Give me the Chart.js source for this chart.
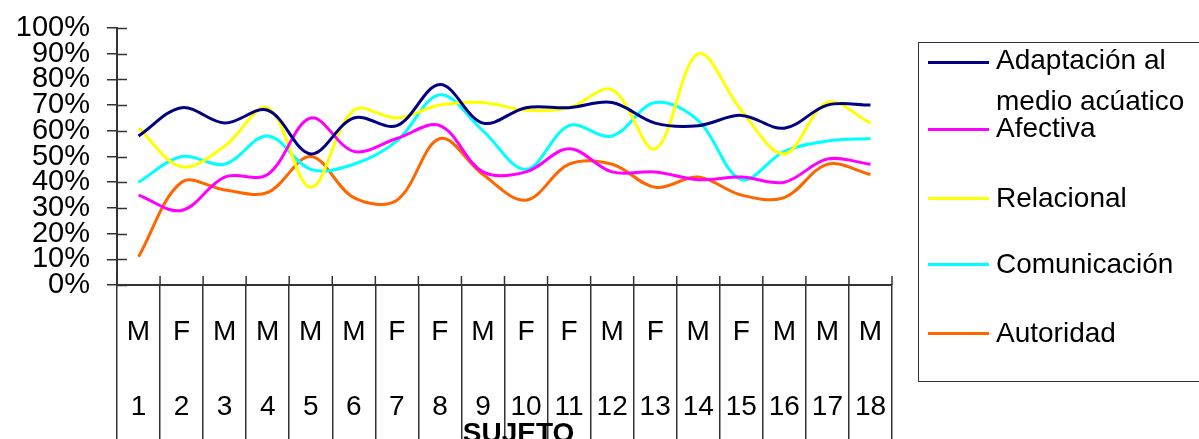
<!DOCTYPE html>
<html>
<head>
<meta charset="utf-8">
<script src="https://cdn.jsdelivr.net/npm/chart.js@4/dist/chart.umd.min.js"></script>
<style>
  html, body { margin: 0; padding: 0; background: #fff; overflow: hidden; }
  #wrap { position: relative; width: 1199px; height: 439px; overflow: hidden; }
  #c { position: absolute; left: 0; top: 0; }
  #legend { position: absolute; left: 918px; top: 42px; width: 320px; height: 340px; border: 1px solid #333; box-sizing: border-box; }
  .li { position: absolute; height: 3px; left: 9px; width: 61px; }
  .lt { position: absolute; left: 77px; font-family: "Liberation Sans", Arial, sans-serif; font-size: 28px; line-height: 28px; color: #000; white-space: nowrap; transform: translateY(-50%); }
</style>
</head>
<body>
<div id="wrap">
  <canvas id="c" width="1199" height="439"></canvas>
  <div id="legend"></div>
</div>
<script>
const categories = ['1','2','3','4','5','6','7','8','9','10','11','12','13','14','15','16','17','18'];
const sexes = ['M','F','M','M','M','M','F','F','M','F','F','M','F','M','F','M','M','M'];
const yTicks = [0,10,20,30,40,50,60,70,80,90,100];
const adaptacion   = [58,69,63,68,51,65,62,78,63,69,69,71,63,62,66,61,70,70];
const afectiva     = [35,29,42,43,65,52,57,62,44,44,53,44,44,41,42,40,49,47];
const relacional   = [61,46,54,69,38,68,65,70,71,68,69,76,53,90,68,51,71,63];
const comunicacion = [40,50,47,58,45,47,56,74,60,45,62,58,71,64,41,52,56,57];
const autoridad    = [11,40,37,36,50,34,33,57,43,33,47,47,38,42,35,34,47,43];
const seriesNames = ['Adaptación al\nmedio acúatico','Afectiva','Relacional','Comunicación','Autoridad'];
const seriesColors = ['#000080','#FF00FF','#FFFF00','#00FFFF','#FF6600'];
const seriesData = [adaptacion, afectiva, relacional, comunicacion, autoridad];

const FONT = '"Liberation Sans", Arial, sans-serif';
const AXIS = '#333333';

const innerTicks = {
  id: 'innerTicks',
  afterDraw(chart) {
    const {ctx, chartArea, scales: {x, y}} = chart;
    ctx.save();
    ctx.strokeStyle = AXIS;
    ctx.lineWidth = 1.5;
    y.ticks.forEach((t, i) => {
      const py = Math.round(y.getPixelForTick(i)) + 0.5;
      ctx.beginPath(); ctx.moveTo(chartArea.left, py); ctx.lineTo(chartArea.left + 10, py); ctx.stroke();
    });
    for (let i = 0; i <= categories.length; i++) {
      const px = x.getPixelForValue(i - 0.5);
      ctx.beginPath(); ctx.moveTo(px, chartArea.bottom - 9); ctx.lineTo(px, chartArea.bottom); ctx.stroke();
    }
    ctx.fillStyle = '#000';
    ctx.font = 'bold 28px ' + FONT;
    ctx.textAlign = 'center';
    ctx.textBaseline = 'alphabetic';
    ctx.fillText('SUJETO', (chartArea.left + chartArea.right) / 2 + 14, 442);
    ctx.restore();
  }
};

new Chart(document.getElementById('c'), {
  type: 'line',
  data: {
    labels: categories.map((c, i) => [sexes[i], c]),
    datasets: seriesData.map((d, i) => ({
      label: seriesNames[i],
      data: d,
      borderColor: seriesColors[i],
      backgroundColor: seriesColors[i],
      borderWidth: 3,
      pointRadius: 0,
      pointHoverRadius: 0,
      tension: 0.35,
      fill: false
    }))
  },
  options: {
    responsive: false,
    animation: false,
    events: [],
    layout: { padding: { left: 0, top: 28, right: 307, bottom: 0 } },
    plugins: { legend: { display: false }, tooltip: { enabled: false } },
    scales: {
      x: {
        type: 'category',
        offset: true,
        grid: { display: true, offset: true, drawOnChartArea: false, drawTicks: true, tickLength: 170, color: AXIS, lineWidth: 1.5 },
        border: { display: true, color: AXIS, width: 2 },
        ticks: {
          autoSkip: false, maxRotation: 0, minRotation: 0,
          color: '#000',
          font: { family: FONT, size: 28, lineHeight: 75 / 28 },
          padding: -160.5
        },
        afterFit: (s) => { s.height = 154; s.paddingLeft = 0; s.paddingRight = 0; }
      },
      y: {
        min: 0, max: 100,
        afterBuildTicks: (s) => { s.ticks = yTicks.map(v => ({ value: v })); },
        grid: { display: true, drawOnChartArea: false, drawTicks: true, tickLength: 10, color: AXIS, lineWidth: 1.5 },
        border: { display: true, color: AXIS, width: 2 },
        ticks: {
          autoSkip: false,
          color: '#000',
          font: { family: FONT, size: 29 },
          padding: 17,
          callback: (v) => v + '%'
        },
        afterFit: (s) => { s.width = 117; s.paddingTop = 0; s.paddingBottom = 0; }
      }
    }
  },
  plugins: [innerTicks]
});

// HTML legend
const legend = document.getElementById('legend');
const lineY = [19, 86, 155, 221, 290];
const textY = [[17, 58], [85], [155], [221], [290]];
seriesNames.forEach((name, i) => {
  const l = document.createElement('div');
  l.className = 'li';
  l.style.top = (lineY[i] - 1.5) + 'px';
  l.style.background = seriesColors[i];
  legend.appendChild(l);
  name.split('\n').forEach((part, j) => {
    const t = document.createElement('div');
    t.className = 'lt';
    t.style.top = textY[i][j] + 'px';
    t.textContent = part;
    legend.appendChild(t);
  });
});
</script>
</body>
</html>
